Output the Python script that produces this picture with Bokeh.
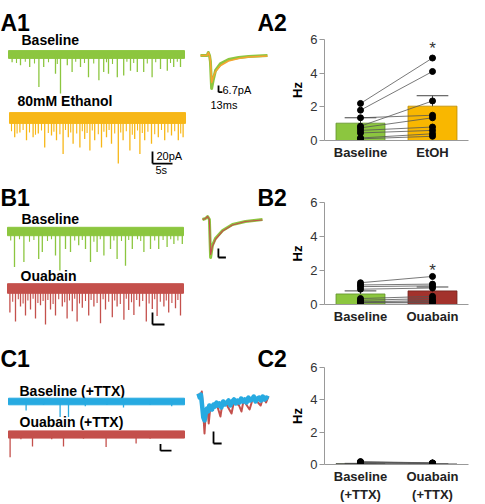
from bokeh.plotting import figure
from bokeh.models import Range1d, FixedTicker
from bokeh.layouts import row, column
from bokeh.core.properties import value
from bokeh.embed import file_html
from bokeh.resources import INLINE

FONT = "Liberation Sans"

# ---------------- data ----------------
# Raw traces: event times (s) and amplitudes (pA, inward)
a_base_t = [0.9, 3, 5.3, 7.6, 8.8, 11.75, 13, 14.7, 15.9, 18, 20, 22.6, 23.8, 25, 27.2, 28.8,
            30.5, 32.2, 33.8, 35.9, 38, 39.7, 41.3, 43]
a_base_amp = [13, 18, 21, 54, 21, 32, 65, 18, 29, 21, 38, 43, 29, 32, 38, 35, 27, 29, 29, 38,
              24, 27, 21, 21]
a_base_small_t = [2, 4.2, 6.5, 10, 12.2, 16.8, 19, 21.3, 24.5, 26, 29.6, 31.3, 34.7, 36.8, 40.5, 42.2]
a_base_small_amp = [14, 12, 15, 13, 16, 12, 14, 15, 13, 16, 12, 14, 15, 13, 14, 12]

a_etoh_t = [1.3, 2.6, 4.25, 5.9, 7.2, 8.8, 10.5, 11.75, 13.4, 14.7, 15.9, 17.6, 18.8, 20.1, 21.3,
            23, 24.25, 25.5, 27.2, 28.4, 30.1, 31.3, 32.6, 33.8, 35.5, 37.2, 38.8, 40.5, 42.2, 43.4]
a_etoh_amp = [32, 24, 37, 32, 26, 49, 29, 37, 60, 32, 43, 49, 35, 54, 37, 49, 32, 43, 76, 37,
              54, 35, 60, 37, 43, 32, 37, 29, 37, 32]
a_etoh_small_t = [0.5, 1.9, 3.4, 5, 6.5, 8, 9.7, 11.1, 12.6, 14, 15.3, 16.8, 18.2, 19.4, 20.7,
                  22.2, 23.6, 24.9, 26.3, 27.8, 29.2, 30.7, 32, 33.2, 34.6, 36.3, 38, 39.6, 41.3, 42.8]
a_etoh_small_amp = [22, 26, 20, 24, 28, 21, 25, 23, 27, 20, 24, 26, 22, 25, 21, 27, 23, 20, 26,
                    24, 22, 28, 21, 25, 23, 27, 20, 24, 22, 26]

b_base_t = [1.75, 4.1, 7.8, 8.7, 12, 13.1, 14.5, 15.75, 17.8, 19.5, 20.75, 22.4, 24.1, 25.75,
            27.4, 29.5, 31.2, 34.1, 35.75, 37.8, 39.9, 41.6, 43.7]
b_base_amp = [59, 51, 46, 34, 40, 65, 29, 34, 23, 29, 51, 34, 40, 29, 46, 57, 29, 34, 29, 29,
              26, 21, 21]
b_base_small_t = [0.8, 3, 5.5, 6.6, 10, 11, 16.8, 18.7, 21.6, 23.2, 26.6, 28.5, 30.3, 32.5, 33.3,
                  36.8, 38.9, 40.8, 42.6]
b_base_small_amp = [15, 13, 17, 14, 16, 13, 15, 14, 17, 13, 15, 16, 14, 13, 16, 15, 14, 13, 15]

b_oua_t = [0.6, 2, 3.25, 4.5, 5.75, 7, 8.25, 9.5, 10.75, 12, 13.7, 14.9, 16.2, 17.4, 18.7, 20.3,
           21.6, 23.25, 24.5, 26.2, 27.4, 29.1, 30.3, 31.6, 33, 34.7, 36.2, 37.4, 39.1, 40.3, 42, 43.25]
b_oua_amp = [40, 55, 30, 45, 35, 50, 28, 60, 35, 45, 30, 50, 38, 55, 32, 45, 30, 58, 35, 48,
             30, 52, 36, 44, 30, 55, 34, 46, 30, 40, 33, 45]
b_oua_small_t = [1.3, 2.7, 3.9, 5.1, 6.4, 7.6, 8.9, 10.1, 11.4, 12.8, 14.3, 15.5, 16.8, 18, 19.5,
                 20.9, 22.4, 23.9, 25.3, 26.8, 28.2, 29.7, 31, 32.3, 33.8, 35.4, 36.8, 38.2, 39.7,
                 41.1, 42.6]
b_oua_small_amp = [22, 18, 25, 20, 17, 24, 21, 19, 26, 18, 23, 20, 17, 25, 21, 19, 24, 18, 22,
                   20, 26, 17, 23, 19, 21, 25, 18, 22, 20, 24, 19]

c_base_t = [4.4, 8.75, 12.9, 15, 19.2, 24.6, 28.75, 35.4, 40.8]
c_base_amp = [15, 6, 26, 26, 8, 6, 10, 6, 8]
c_oua_t = [0.4, 3.1, 6, 10.8, 13.75, 18.75, 24.4, 31.9, 35.4, 39.6]
c_oua_amp = [38, 8, 20, 8, 20, 7, 21, 15, 7, 6]

# Averaged events (ms, pA)
ins_a_t = [0, 22, 26, 30, 33, 37, 42, 50, 67, 93, 127, 160, 223]
ins_a_base = [0, 0, 3, 0, -6, -33, -25, -15, -8, -4, -2, -1, 0]
ins_a_etoh = [0, 0, 3, 0, -5, -27, -22, -16, -10, -5.5, -3, -1.5, -0.5]

ins_b_t = [0, 10, 17, 23, 27, 33, 43, 67, 100, 143, 200]
ins_b_base = [-1, 0, 2, -1, -39, -27, -20, -12, -6, -3, -1]
ins_b_oua = [-1, 0, 2, -1, -36, -28, -21, -12.5, -6.5, -3, -1.5]

ins_c_t = [0, 4, 8, 12, 16, 20, 24, 28, 32, 36, 40, 45, 50, 55, 60, 65, 70, 76, 82, 88, 94, 100,
           106, 112, 118, 124, 130, 136, 142, 148, 154, 160, 166, 172, 178, 184, 190, 196, 202,
           208, 214, 220, 226, 233]
ins_c_base = [0, -4, -1, -12, -24, -27, -20, -15, -18, -12, -14, -16, -11, -13, -9, -12, -10, -14,
              -8, -11, -9, -7, -12, -8, -6, -10, -7, -9, -5, -8, -6, -9, -4, -7, -6, -3, -8, -5,
              -4, -7, -3, -6, -4, -5]
ins_c_oua_t = [0, 6, 11, 17, 20, 24, 30, 34, 40, 50, 60, 73, 80, 95, 110, 118, 135, 143, 150, 170,
               180, 195, 207, 215, 225, 233]
ins_c_oua = [0, -3, 2, -25, -40, -20, -15, -30, -12, -14, -10, -23, -9, -12, -20, -8, -12, -18,
             -7, -16, -6, -8, -12, -4, -9, -3]

# Bar charts (Hz)
a2_cats = ["Baseline", "EtOH"]
a2_means = [1.03, 2.04]
a2_sems = [0.32, 0.62]
a2_base = [2.2, 1.8, 1.35, 0.85, 0.75, 0.6, 0.45, 0.15, 0.1]
a2_drug = [4.9, 4.1, 1.5, 2.35, 1.35, 0.8, 0.6, 0.4, 0.25]

b2_cats = ["Baseline", "Ouabain"]
b2_means = [0.62, 0.80]
b2_sems = [0.18, 0.23]
b2_base = [1.28, 1.15, 1.05, 0.9, 0.35, 0.25, 0.16, 0.12, 0.1]
b2_drug = [1.65, 1.2, 1.1, 0.97, 0.48, 0.35, 0.23, 0.15, 0.1]

c2_cats = ["Baseline\n(+TTX)", "Ouabain\n(+TTX)"]
c2_means = [0.05, 0.03]
c2_sems = [0.02, 0.01]
c2_base = [0.18, 0.15, 0.12, 0.1, 0.08]
c2_drug = [0.1, 0.09, 0.08, 0.07, 0.06]

y_ticks = [0, 2, 4, 6]

# ---------------- styles ----------------
GREEN = "#8cc63f"
YELLOW = "#f7b718"
ORANGE = "#f4a531"
RED = "#c4504c"
DKRED = "#a3322c"
BLUE = "#27aae1"
BARYEL = "#f9b700"

LW, RW = 287, 198
PX_S, PX_PA = 4.0, 0.6
T_END = 44.0
DY = -5  # text baseline correction


def no_align(p):
    if "frame_align" in p.properties():
        p.frame_align = False
    return p


def left_fig(h):
    p = figure(width=LW, height=h, x_range=Range1d(0, LW), y_range=Range1d(h, 0),
               toolbar_location=None, output_backend="svg", min_border=0,
               x_axis_location=None, y_axis_location=None)
    p.xgrid.visible = False
    p.ygrid.visible = False
    p.outline_line_color = None
    return no_align(p)


def label(p, x, y, txt, size, bold=True, color="black"):
    p.text(x=[x], y=[y + DY], text=[txt], text_font=value(FONT), text_font_size=f"{size}px",
           text_font_style="bold" if bold else "normal", text_color=color,
           text_baseline="alphabetic", text_align="left")


def trace(p, x0, yc, times, amps, small_t, small_amp, band, color):
    s = p.subplot(x_source=Range1d(0, T_END), y_source=Range1d(0, -100),
                  x_target=Range1d(x0, x0 + T_END * PX_S),
                  y_target=Range1d(yc, yc + 100 * PX_PA))
    s.quad(left=[0], right=[T_END], bottom=[-band], top=[band],
           fill_color=color, line_color=color, line_width=1)
    if small_t:
        s.segment(x0=small_t, y0=[0] * len(small_t), x1=small_t, y1=[-a for a in small_amp],
                  line_color=color, line_width=1.1)
    s.segment(x0=times, y0=[0] * len(times), x1=times, y1=[-a for a in amps],
              line_color=color, line_width=1.3)
    return s


def scalebar(s, t0, i0, dt, di):
    s.segment(x0=[t0, t0], y0=[i0, i0], x1=[t0, t0 + dt], y1=[i0 + di, i0],
              line_color="black", line_width=1.8)


def inset(p, x0, x1, tmax, yb, series):
    s = p.subplot(x_source=Range1d(0, tmax), y_source=Range1d(0, -50),
                  x_target=Range1d(x0, x1), y_target=Range1d(yb, yb + 50))
    for t, v, c, w in series:
        s.line(x=t, y=v, line_color=c, line_width=w, line_join="round")
    return s


def bar_fig(h, top_b, bot_b, cats, means, sems, p0, p1, fills, edges, star=None):
    p = figure(width=RW, height=h, x_range=Range1d(0, 2), y_range=Range1d(0, 6),
               toolbar_location=None, output_backend="svg",
               min_border_left=31, min_border_right=17,
               min_border_top=top_b, min_border_bottom=bot_b)
    no_align(p)
    p.xgrid.visible = False
    p.ygrid.visible = False
    p.outline_line_color = None
    xs = [0.5, 1.5]
    p.vbar(x=xs, top=means, width=0.68, fill_color=fills, line_color=edges, line_width=0.8)
    tops = [m + s for m, s in zip(means, sems)]
    p.segment(x0=xs, y0=means, x1=xs, y1=tops, line_color="#444", line_width=1)
    p.segment(x0=[x - 0.22 for x in xs], y0=tops, x1=[x + 0.22 for x in xs], y1=tops,
              line_color="#444", line_width=1)
    p.segment(x0=[xs[0]] * len(p0), y0=p0, x1=[xs[1]] * len(p1), y1=p1,
              line_color="#555", line_width=0.8)
    p.scatter(x=[xs[0]] * len(p0), y=p0, size=6, color="black")
    p.scatter(x=[xs[1]] * len(p1), y=p1, size=6, color="black")
    if star is not None:
        p.text(x=[xs[1]], y=[star], text=["*"], text_font=value(FONT), text_font_size="17px",
               text_color="#333", text_align="center", text_baseline="alphabetic")
    ya = p.yaxis[0]
    ya.ticker = FixedTicker(ticks=y_ticks)
    ya.minor_tick_line_color = None
    ya.major_tick_out = 5
    ya.major_tick_in = 0
    ya.axis_line_color = "#999"
    ya.major_tick_line_color = "#999"
    ya.major_label_text_font = FONT
    ya.major_label_text_font_size = "13px"
    ya.major_label_text_color = "#333"
    ya.major_label_standoff = 2
    ya.axis_label = "Hz"
    ya.axis_label_text_font = FONT
    ya.axis_label_text_font_style = "bold"
    ya.axis_label_text_font_size = "13px"
    ya.axis_label_text_color = "black"
    ya.axis_label_standoff = 2
    xa = p.xaxis[0]
    xa.ticker = FixedTicker(ticks=xs)
    xa.major_label_overrides = {0.5: cats[0], 1.5: cats[1]}
    xa.minor_tick_line_color = None
    xa.major_tick_line_color = None
    xa.major_tick_out = 0
    xa.major_tick_in = 0
    xa.axis_line_color = "#999"
    xa.major_label_text_font = FONT
    xa.major_label_text_font_style = "bold"
    xa.major_label_text_font_size = "13px"
    xa.major_label_text_color = "#222"
    xa.major_label_standoff = 4
    return p


# ---------------- row A ----------------
pa = left_fig(176)
label(pa, 0, 27, "A1", 23)
label(pa, 257, 27, "A2", 23)
label(pa, 21, 44, "Baseline", 14)
label(pa, 17, 105, "80mM Ethanol", 14)
trace(pa, 8, 54, a_base_t, a_base_amp, a_base_small_t, a_base_small_amp, 6.5, GREEN)
sa2 = trace(pa, 9, 117.5, a_etoh_t, a_etoh_amp, a_etoh_small_t, a_etoh_small_amp, 9, YELLOW)
scalebar(sa2, 35.75, -76, 5, 20)
label(pa, 156, 160, "20pA", 11, bold=False)
label(pa, 155, 174, "5s", 11, bold=False)
ia = inset(pa, 200, 267, 223, 55, [(ins_a_t, ins_a_base, GREEN, 3),
                                   (ins_a_t, ins_a_etoh, ORANGE, 1.6)])
scalebar(ia, 60, -36.7, 13, 6.7)
label(pa, 222, 94, "6.7pA", 11, bold=False)
label(pa, 210, 109, "13ms", 11, bold=False)

ba = bar_fig(176, 39, 36, a2_cats, a2_means, a2_sems, a2_base, a2_drug,
             [GREEN, BARYEL], ["#5f8f2a", "#b98a00"], star=5.45)

# ---------------- row B ----------------
pb = left_fig(150)
label(pb, 0, 26, "B1", 23)
label(pb, 257, 26, "B2", 23)
label(pb, 21, 47, "Baseline", 14)
label(pb, 20, 104, "Ouabain", 14)
trace(pb, 7, 55, b_base_t, b_base_amp, b_base_small_t, b_base_small_amp, 7, GREEN)
sb2 = trace(pb, 7, 112, b_oua_t, b_oua_amp, b_oua_small_t, b_oua_small_amp, 8, RED)
scalebar(sb2, 36.25, -60, 3, 20)
ib = inset(pb, 202, 262, 200, 42, [(ins_b_t, ins_b_base, GREEN, 3),
                                   (ins_b_t, ins_b_oua, RED, 1.2)])
scalebar(ib, 53, -39, 25, 9)

bb = bar_fig(150, 26, 21, b2_cats, b2_means, b2_sems, b2_base, b2_drug,
             [GREEN, DKRED], ["#5f8f2a", "#6e1f1a"], star=2.0)

# ---------------- row C ----------------
pc = left_fig(178)
label(pc, 0, 37, "C1", 23)
label(pc, 257, 37, "C2", 23)
label(pc, 19, 69, "Baseline (+TTX)", 14)
label(pc, 19, 100, "Ouabain (+TTX)", 14)
trace(pc, 8, 75, c_base_t, c_base_amp, [], [], 5.5, BLUE)
sc2 = trace(pc, 8, 108, c_oua_t, c_oua_amp, [], [], 6, RED)
scalebar(sc2, 38, -27, 2.75, 11)
ic = inset(pc, 198, 268, 233, 67, [(ins_c_oua_t, ins_c_oua, RED, 2),
                                   (ins_c_t, ins_c_base, BLUE, 4.5)])
scalebar(ic, 50, -50, 27, 12)

bc = bar_fig(178, 41, 36, c2_cats, c2_means, c2_sems, c2_base, c2_drug,
             [GREEN, DKRED], ["#222", "#222"])

layout = column(row(pa, ba), row(pb, bb), row(pc, bc))

open("out.html", "w").write(file_html(layout, INLINE))
